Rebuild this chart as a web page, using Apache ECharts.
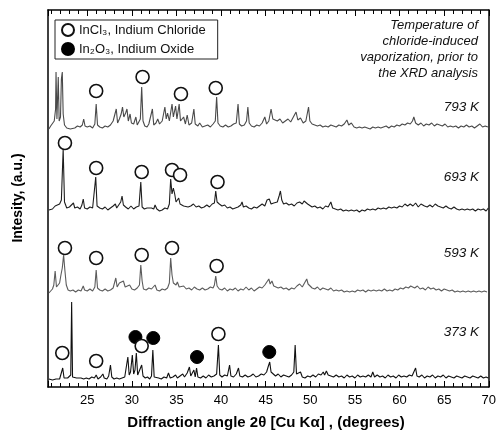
<!DOCTYPE html>
<html><head><meta charset="utf-8">
<script src="https://cdn.jsdelivr.net/npm/echarts@6/dist/echarts.min.js"></script>
<style>html,body{margin:0;padding:0;background:#fff}#c{width:499px;height:435px}</style>
</head><body><div id="c"></div>
<script>
// Trace names and vertical offsets (a.u.)
const traceNames = ['793 K', '693 K', '593 K', '373 K'];
const traceOffsets = [258, 175, 94, 7];
// Each trace: [2theta (deg), intensity above its baseline (a.u.)]
const trace793 = [[20.7,0],[20.9,3],[21.1,5],[21.3,8],[21.45,20],[21.5,57],[21.6,10],[21.75,52],[21.85,8],[22.0,12],[22.1,50],[22.2,57],[22.3,15],[22.45,4],[22.7,1],[22.9,3],[23.1,0],[23.3,2],[23.6,1],[23.9,3],[24.2,2],[24.45,4],[24.6,10],[24.75,3],[25.0,2],[25.3,3],[25.6,1],[25.85,5],[26.0,25],[26.15,4],[26.4,2],[26.7,1],[27.0,3],[27.3,2],[27.6,4],[27.9,8],[28.1,10],[28.25,20],[28.4,6],[28.6,10],[28.8,15],[28.95,22],[29.1,12],[29.3,16],[29.45,20],[29.6,8],[29.8,15],[29.95,6],[30.2,5],[30.45,12],[30.6,4],[30.8,5],[30.95,10],[31.1,42],[31.25,8],[31.45,3],[31.7,2],[31.9,5],[32.1,3],[32.3,20],[32.45,4],[32.7,6],[32.9,10],[33.1,5],[33.4,8],[33.7,22],[33.85,10],[34.0,16],[34.2,8],[34.5,25],[34.65,12],[34.9,23],[35.05,10],[35.3,25],[35.45,8],[35.65,6],[35.8,12],[36.0,5],[36.2,14],[36.4,4],[36.7,6],[36.95,20],[37.1,5],[37.4,3],[37.6,6],[37.9,2],[38.2,3],[38.5,4],[38.8,2],[39.1,5],[39.35,8],[39.5,32],[39.65,6],[39.9,3],[40.2,2],[40.5,4],[40.8,2],[41.1,3],[41.4,5],[41.7,6],[41.9,25],[42.05,5],[42.3,3],[42.6,4],[42.85,8],[43.0,22],[43.15,6],[43.4,3],[43.7,2],[44.0,4],[44.3,3],[44.6,6],[44.9,12],[45.1,5],[45.35,8],[45.6,20],[45.8,10],[46.0,12],[46.3,8],[46.6,10],[46.9,6],[47.2,8],[47.5,10],[47.8,7],[48.1,12],[48.4,17],[48.6,9],[48.9,11],[49.2,6],[49.5,8],[49.8,22],[49.95,8],[50.2,5],[50.5,4],[50.8,3],[51.1,4],[51.4,2],[51.7,3],[52.0,2],[52.3,4],[52.6,3],[52.9,2],[53.2,4],[53.5,3],[53.8,5],[54.1,9],[54.3,4],[54.6,6],[54.9,2],[55.2,1],[55.5,2],[55.8,1],[56.1,2],[56.4,1],[56.7,0],[57.0,2],[57.3,1],[57.6,2],[57.9,1],[58.2,2],[58.5,3],[58.8,1],[59.1,3],[59.4,2],[59.7,4],[60.0,3],[60.3,5],[60.6,4],[60.9,6],[61.2,5],[61.45,8],[61.6,12],[61.8,6],[62.1,4],[62.4,6],[62.7,3],[63.0,5],[63.3,4],[63.6,6],[63.9,3],[64.2,5],[64.5,4],[64.8,3],[65.1,5],[65.4,2],[65.7,3],[66.0,2],[66.3,3],[66.6,1],[66.9,3],[67.2,2],[67.5,4],[67.8,2],[68.1,3],[68.4,1],[68.7,3],[69.0,5],[69.3,2],[69.6,3],[69.9,2]];
const trace693 = [[20.7,2],[20.9,4],[21.1,3],[21.4,6],[21.6,5],[21.9,8],[22.1,12],[22.3,63],[22.45,10],[22.7,4],[23.0,5],[23.2,3],[23.45,9],[23.6,4],[23.9,5],[24.2,3],[24.4,7],[24.55,13],[24.7,4],[25.0,3],[25.3,5],[25.6,4],[25.8,6],[25.95,35],[26.1,6],[26.4,4],[26.7,3],[27.0,5],[27.3,2],[27.6,4],[27.9,6],[28.15,8],[28.3,4],[28.5,6],[28.75,10],[28.9,16],[29.05,7],[29.3,5],[29.6,3],[29.9,6],[30.2,3],[30.5,5],[30.8,6],[31.0,30],[31.15,5],[31.4,3],[31.7,4],[31.9,2],[32.2,4],[32.45,3],[32.6,7],[32.8,3],[33.1,1],[33.4,2],[33.7,4],[34.0,3],[34.2,8],[34.35,33],[34.5,18],[34.65,24],[34.8,18],[34.95,10],[35.1,12],[35.25,14],[35.4,8],[35.6,10],[35.8,6],[36.0,7],[36.3,5],[36.6,6],[36.9,8],[37.2,5],[37.5,6],[37.8,4],[38.1,5],[38.4,7],[38.7,5],[39.0,8],[39.25,9],[39.4,21],[39.55,10],[39.8,8],[40.1,6],[40.4,7],[40.7,4],[41.0,5],[41.3,3],[41.6,4],[41.9,5],[42.2,7],[42.35,10],[42.5,5],[42.8,6],[43.1,4],[43.4,3],[43.7,5],[44.0,4],[44.3,6],[44.6,8],[44.9,6],[45.15,12],[45.4,13],[45.6,8],[45.9,9],[46.1,7],[46.3,10],[46.5,16],[46.65,21],[46.8,12],[47.0,8],[47.3,9],[47.6,7],[47.9,8],[48.2,6],[48.5,9],[48.8,10],[49.1,8],[49.3,11],[49.5,13],[49.7,8],[49.9,7],[50.2,5],[50.5,6],[50.8,4],[51.1,5],[51.4,3],[51.7,6],[52.0,5],[52.3,10],[52.5,4],[52.8,3],[53.1,2],[53.4,3],[53.7,1],[54.0,2],[54.3,1],[54.6,2],[54.9,1],[55.2,2],[55.5,0],[55.8,2],[56.1,1],[56.4,3],[56.7,2],[57.0,3],[57.3,2],[57.6,4],[57.9,3],[58.2,4],[58.5,3],[58.8,5],[59.1,4],[59.4,5],[59.7,4],[60.0,6],[60.3,5],[60.6,8],[60.9,6],[61.2,8],[61.5,6],[61.8,9],[62.1,5],[62.4,8],[62.55,10],[62.8,6],[63.1,5],[63.4,7],[63.7,5],[64.0,8],[64.3,6],[64.6,5],[64.9,4],[65.2,6],[65.5,4],[65.8,3],[66.1,5],[66.4,3],[66.7,2],[67.0,3],[67.3,2],[67.6,3],[67.9,2],[68.2,3],[68.5,1],[68.8,3],[69.1,2],[69.4,3],[69.7,1],[69.95,4]];
const trace593 = [[20.7,0],[20.9,2],[21.1,4],[21.25,8],[21.4,22],[21.55,6],[21.75,8],[21.9,10],[22.05,18],[22.2,25],[22.35,38],[22.5,22],[22.65,8],[22.85,3],[23.1,2],[23.4,3],[23.7,1],[24.0,3],[24.3,2],[24.55,7],[24.7,3],[25.0,2],[25.3,4],[25.6,2],[25.85,6],[26.0,23],[26.15,5],[26.4,3],[26.7,2],[27.0,4],[27.3,2],[27.6,3],[27.9,5],[28.2,15],[28.35,6],[28.6,10],[28.8,8],[29.05,12],[29.25,6],[29.5,7],[29.75,8],[30.0,4],[30.3,3],[30.6,5],[30.85,8],[31.0,28],[31.15,12],[31.3,4],[31.6,3],[31.9,5],[32.2,4],[32.6,8],[32.8,3],[33.1,2],[33.4,4],[33.7,3],[34.0,5],[34.2,10],[34.35,35],[34.5,18],[34.65,10],[34.8,12],[34.95,8],[35.1,11],[35.3,6],[35.5,5],[35.8,7],[36.1,4],[36.4,5],[36.7,3],[37.0,6],[37.3,4],[37.6,3],[37.9,5],[38.2,3],[38.5,4],[38.8,6],[39.1,5],[39.25,8],[39.4,17],[39.55,7],[39.8,4],[40.1,3],[40.4,5],[40.7,2],[41.0,4],[41.3,3],[41.6,5],[41.9,2],[42.2,4],[42.5,3],[42.8,6],[43.1,3],[43.4,5],[43.7,2],[44.0,4],[44.3,6],[44.6,5],[44.9,8],[45.1,10],[45.35,14],[45.5,9],[45.7,12],[45.9,7],[46.1,8],[46.4,5],[46.7,6],[47.0,4],[47.3,5],[47.6,3],[47.9,5],[48.2,4],[48.5,7],[48.8,9],[49.1,6],[49.35,10],[49.6,14],[49.75,9],[49.95,11],[50.2,5],[50.5,4],[50.8,6],[51.1,3],[51.4,5],[51.7,4],[52.0,3],[52.3,5],[52.6,2],[52.9,3],[53.2,2],[53.5,3],[53.8,1],[54.1,2],[54.4,1],[54.7,2],[55.0,1],[55.3,3],[55.6,2],[55.9,3],[56.2,1],[56.5,3],[56.8,2],[57.1,3],[57.4,2],[57.7,3],[58.0,2],[58.3,4],[58.6,2],[58.9,3],[59.2,2],[59.5,4],[59.8,3],[60.1,5],[60.4,4],[60.7,6],[61.0,5],[61.25,7],[61.45,8],[61.7,5],[62.0,7],[62.3,4],[62.6,5],[62.9,3],[63.2,6],[63.5,4],[63.8,5],[64.1,3],[64.4,4],[64.7,2],[65.0,4],[65.3,3],[65.6,2],[65.9,3],[66.2,1],[66.5,2],[66.8,1],[67.1,2],[67.4,1],[67.7,2],[68.0,1],[68.3,2],[68.6,1],[68.9,2],[69.2,1],[69.5,2],[69.8,1]];
const trace373 = [[20.7,1],[20.9,2],[21.1,0],[21.3,2],[21.5,1],[21.7,3],[21.9,1],[22.1,2],[22.25,12],[22.4,2],[22.6,1],[22.8,2],[23.0,1],[23.15,5],[23.25,78],[23.35,3],[23.55,1],[23.8,2],[24.0,0],[24.3,2],[24.6,1],[24.9,2],[25.2,1],[25.5,3],[25.8,2],[26.0,5],[26.2,1],[26.5,3],[26.75,6],[26.9,2],[27.2,1],[27.4,4],[27.6,15],[27.75,3],[28.0,1],[28.3,2],[28.6,1],[28.9,2],[29.2,3],[29.4,5],[29.55,23],[29.7,5],[29.85,8],[30.05,25],[30.2,6],[30.35,10],[30.5,27],[30.65,5],[30.85,4],[31.1,15],[31.25,4],[31.5,2],[31.75,3],[32.0,1],[32.2,4],[32.35,30],[32.5,3],[32.7,1],[33.0,2],[33.3,1],[33.6,3],[33.9,2],[34.1,7],[34.3,2],[34.6,3],[34.9,5],[35.1,2],[35.4,4],[35.7,6],[35.9,3],[36.2,7],[36.45,13],[36.6,4],[36.8,6],[36.95,10],[37.1,3],[37.25,12],[37.4,3],[37.7,2],[38.0,4],[38.3,2],[38.6,5],[38.9,3],[39.2,4],[39.5,6],[39.7,35],[39.85,5],[40.1,3],[40.4,5],[40.7,4],[40.95,15],[41.1,4],[41.4,3],[41.7,6],[41.95,12],[42.1,4],[42.4,3],[42.7,5],[43.0,3],[43.3,4],[43.6,6],[43.9,3],[44.2,4],[44.5,6],[44.8,5],[45.1,8],[45.3,14],[45.45,18],[45.6,8],[45.8,6],[46.1,4],[46.4,6],[46.7,3],[47.0,5],[47.3,4],[47.6,3],[47.9,5],[48.15,8],[48.3,35],[48.45,6],[48.65,4],[48.9,8],[49.1,3],[49.4,2],[49.7,4],[50.0,3],[50.3,5],[50.6,3],[50.9,6],[51.2,5],[51.45,8],[51.6,5],[51.8,9],[52.0,5],[52.3,4],[52.6,3],[52.9,5],[53.2,3],[53.5,4],[53.8,2],[54.1,5],[54.4,3],[54.7,4],[55.0,2],[55.3,5],[55.6,3],[55.9,4],[56.2,3],[56.5,5],[56.8,3],[57.0,8],[57.2,3],[57.5,5],[57.8,3],[58.1,4],[58.4,2],[58.7,5],[59.0,3],[59.3,4],[59.6,2],[59.9,5],[60.2,3],[60.5,4],[60.8,3],[61.1,5],[61.4,4],[61.6,6],[61.8,12],[61.95,4],[62.2,3],[62.5,5],[62.8,2],[63.1,4],[63.4,3],[63.7,5],[64.0,2],[64.3,4],[64.6,3],[64.9,5],[65.2,2],[65.5,4],[65.8,3],[66.1,2],[66.4,4],[66.7,3],[67.0,2],[67.3,4],[67.6,3],[67.9,2],[68.2,4],[68.5,3],[68.8,2],[69.1,4],[69.4,2],[69.7,3],[69.95,2]];
// Phase markers [2theta, position (a.u.)]
const inCl3Marks = [[26.0,296],[31.2,310],[35.5,293],[39.4,299],
  [22.5,244],[26.0,219],[31.1,215],[34.5,217],[35.4,212],[39.6,205],
  [22.5,139],[26.0,129],[31.1,132],[34.5,139],[39.5,121],
  [22.2,34],[26.0,26],[31.1,41],[39.7,53]];
const in2O3Marks = [[30.4,50],[32.4,49],[37.3,30],[45.4,35]];
const phaseNames = ['InCl\u2083, Indium Chloride', 'In\u2082O\u2083, Indium Oxide'];
const xTickStep = 5;

const traces = [trace793, trace693, trace593, trace373];
const traceColors = ['#4a4a4a', '#1e1e1e', '#5c5c5c', '#111'];
const FONT = '"Liberation Sans", Arial, sans-serif';

const chart = echarts.init(document.getElementById('c'), null, {renderer: 'canvas'});
const lineSeries = traces.map((t, i) => ({
  name: traceNames[i], type: 'line', showSymbol: false, symbol: 'none',
  data: t.map(p => [p[0], p[1] + traceOffsets[i]]),
  lineStyle: {color: traceColors[i], width: 1.1}, animation: false, z: 2,
  xAxisIndex: 0, yAxisIndex: 0
}));
const xBase = {
  type: 'value', min: 20.6, max: 70, splitNumber: 10,
  splitLine: {show: false}, minorSplitLine: {show: false},
  axisLine: {show: true, onZero: false, lineStyle: {color: '#000', width: 1.5}},
  axisTick: {show: true, inside: true, length: 6, lineStyle: {color: '#000', width: 1}},
  minorTick: {show: true, splitNumber: 5, length: 4, lineStyle: {color: '#000', width: 1}}
};
const option = {
  animation: false,
  backgroundColor: '#fff',
  grid: {left: 48, right: 9, top: 10, bottom: 48, containLabel: false},
  xAxis: [
    Object.assign({}, xBase, {position: 'bottom',
      axisLabel: {show: true, margin: 7, color: '#000', fontSize: 13, fontFamily: FONT,
        formatter: v => (Math.abs(v % xTickStep) < 1e-6 ? String(v) : '')}}),
    Object.assign({}, xBase, {position: 'top', axisLabel: {show: false}})
  ],
  yAxis: [
    {type: 'value', min: 0, max: 377, position: 'left', splitLine: {show: false},
     axisLine: {show: true, onZero: false, lineStyle: {color: '#000', width: 1.5}},
     axisTick: {show: false}, axisLabel: {show: false}},
    {type: 'value', min: 0, max: 377, position: 'right', splitLine: {show: false},
     axisLine: {show: true, onZero: false, lineStyle: {color: '#000', width: 1.5}},
     axisTick: {show: false}, axisLabel: {show: false}}
  ],
  legend: {
    show: true, orient: 'vertical', left: 55, top: 20,
    data: phaseNames, icon: 'circle', itemWidth: 12, itemHeight: 12, itemGap: 5,
    borderColor: '#222', borderWidth: 1, padding: [3, 12, 3, 6], backgroundColor: '#fff',
    textStyle: {color: '#111', fontSize: 13, fontFamily: FONT}, selectedMode: false
  },
  series: lineSeries.concat([
    {name: phaseNames[1], type: 'scatter', data: in2O3Marks, symbol: 'circle', symbolSize: 13,
     itemStyle: {color: '#000', borderColor: '#000', borderWidth: 1, opacity: 1}, z: 3},
    {name: phaseNames[0], type: 'scatter', data: inCl3Marks, symbol: 'circle', symbolSize: 13,
     itemStyle: {color: '#fff', borderColor: '#111', borderWidth: 1.6, opacity: 1}, z: 4}
  ]),
  graphic: [
    {type: 'text', style: {x: 478, y: 17, text: 'Temperature of\nchloride-induced\nvaporization, prior to\nthe XRD analysis',
      textAlign: 'right', lineHeight: 16, fill: '#111', font: 'italic 13px ' + FONT}},
    {type: 'text', style: {x: 479, y: 107, text: traceNames[0], textAlign: 'right', textVerticalAlign: 'middle', fill: '#111', font: 'italic 13.5px ' + FONT}},
    {type: 'text', style: {x: 479, y: 177, text: traceNames[1], textAlign: 'right', textVerticalAlign: 'middle', fill: '#111', font: 'italic 13.5px ' + FONT}},
    {type: 'text', style: {x: 479, y: 253, text: traceNames[2], textAlign: 'right', textVerticalAlign: 'middle', fill: '#111', font: 'italic 13.5px ' + FONT}},
    {type: 'text', style: {x: 479, y: 332, text: traceNames[3], textAlign: 'right', textVerticalAlign: 'middle', fill: '#111', font: 'italic 13.5px ' + FONT}},
    {type: 'text', style: {x: 266, y: 423, text: 'Diffraction angle 2\u03B8 [Cu K\u03B1] , (degrees)', textAlign: 'center', textVerticalAlign: 'middle', fill: '#000', font: 'bold 15px ' + FONT}},
    {type: 'text', rotation: Math.PI / 2, x: 18, y: 198, style: {x: 0, y: 0, text: 'Intesity, (a.u.)', textAlign: 'center', textVerticalAlign: 'middle', fill: '#000', font: 'bold 14px ' + FONT}}
  ]
};
chart.setOption(option);
</script>
</body></html>
